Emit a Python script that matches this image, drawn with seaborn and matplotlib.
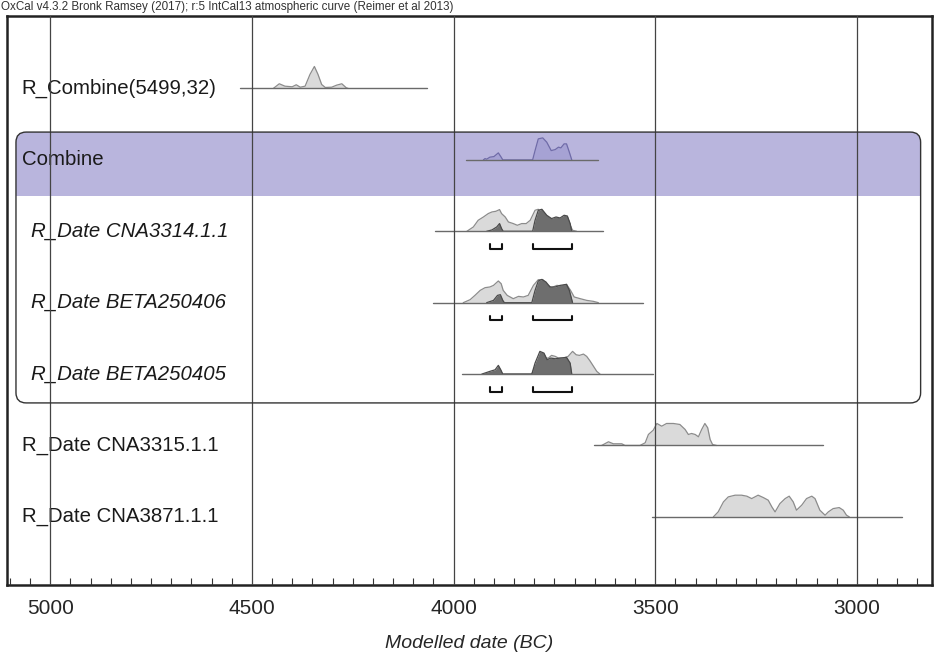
import matplotlib
matplotlib.use("Agg")
import matplotlib.pyplot as plt
import seaborn as sns
import numpy as np
from matplotlib.patches import FancyBboxPatch, Rectangle
from matplotlib.ticker import MultipleLocator

# OxCal multiplot: calibrated dates, years BC
header = "OxCal v4.3.2 Bronk Ramsey (2017); r:5 IntCal13 atmospheric curve (Reimer et al 2013)"
xticks = [5000, 4500, 4000, 3500, 3000]

labels = ["R_Combine(5499,32)", "Combine", "R_Date CNA3314.1.1", "R_Date BETA250406",
          "R_Date BETA250405", "R_Date CNA3315.1.1", "R_Date CNA3871.1.1"]
italic = [False, False, True, True, True, False, False]
range_from = [4529, 3970, 4046, 4050, 3980, 3652, 3509]
range_to = [4066, 3641, 3630, 3531, 3506, 3085, 2889]

# likelihood (light) distributions: years BC / relative probability
lik_years = {
    0: [4447, 4432, 4418, 4400, 4390, 4380, 4368, 4356, 4345, 4336, 4327, 4318, 4302, 4290, 4277, 4266, 4261],
    2: [3967, 3951, 3939, 3926, 3914, 3905, 3895, 3886, 3881, 3872, 3864, 3852, 3842, 3831, 3820, 3810,
        3798, 3790, 3781, 3769, 3757, 3746, 3736, 3726, 3718, 3711, 3705, 3695],
    3: [3976, 3959, 3947, 3934, 3922, 3910, 3901, 3889, 3882, 3877, 3867, 3852, 3839, 3827, 3815, 3802,
        3790, 3779, 3769, 3757, 3744, 3732, 3720, 3710, 3701, 3686, 3670, 3653, 3641],
    4: [3922, 3901, 3889, 3881, 3806, 3798, 3781, 3765, 3757, 3748, 3740, 3728, 3716, 3705, 3696, 3688,
        3678, 3670, 3662, 3653, 3645, 3637],
    5: [3633, 3616, 3604, 3583, 3575, 3538, 3525, 3517, 3505, 3496, 3484, 3472, 3455, 3439, 3426, 3418,
        3410, 3401, 3393, 3385, 3377, 3370, 3364, 3358, 3348],
    6: [3356, 3344, 3331, 3319, 3302, 3286, 3273, 3261, 3245, 3232, 3220, 3211, 3203, 3191, 3178, 3168,
        3158, 3150, 3137, 3125, 3112, 3104, 3092, 3079, 3071, 3059, 3044, 3034, 3026, 3019],
}
lik_prob = {
    0: [0, 4.7, 2.3, 1.7, 3.7, 1.3, 2.3, 14, 22, 14, 4, 1, 1.3, 3.3, 4.7, 0.7, 0],
    2: [0, 4.3, 11, 14.3, 17.7, 19.3, 20, 21.7, 17.7, 14.3, 9.3, 7.7, 6, 7.7, 7.7, 11,
        21, 22, 17.7, 14.3, 11, 13.3, 12, 14.3, 14.3, 6, 1, 0],
    3: [0, 3, 7.3, 12.3, 15, 15.7, 17.3, 21.7, 19, 12.3, 7.3, 4, 6.3, 5.7, 7.3, 17.3,
        23, 23, 18.3, 15, 17.3, 16.7, 18.3, 12.3, 5.7, 4, 2.3, 1.3, 0],
    4: [0, 2, 3.3, 0, 0, 7.7, 16, 16, 18.7, 17.7, 16, 16, 17.7, 22.7, 19.3, 18.7,
        20, 17.7, 13.3, 7.7, 2.7, 0],
    5: [0, 3.7, 1.7, 1.7, 0, 0, 2.7, 11, 15.3, 22, 19.3, 22, 22, 21, 16, 11,
        12, 11, 8.7, 16, 22, 17.7, 6, 1, 0],
    6: [0, 5, 15, 20, 21.7, 21.7, 20.7, 18.3, 21.7, 19.3, 16.7, 10, 5, 13.3, 18.3, 20.7,
        15, 6.7, 11.7, 18.3, 20.7, 18.3, 6.7, 1.7, 5, 8.3, 9.3, 6.7, 1.7, 0],
}

# posterior (dark) distributions
post_years = {
    1: [3926, 3922, 3918, 3910, 3900, 3889, 3882, 3878, 3804, 3798, 3790, 3779, 3769, 3758, 3748, 3740,
        3734, 3726, 3720, 3713, 3707],
    2: [3918, 3905, 3893, 3886, 3881, 3877, 3804, 3798, 3790, 3781, 3769, 3757, 3746, 3736, 3726, 3718,
        3711, 3707],
    3: [3918, 3901, 3891, 3884, 3878, 3874, 3806, 3798, 3790, 3781, 3771, 3761, 3748, 3736, 3720, 3713, 3705],
    4: [3930, 3910, 3897, 3889, 3883, 3878, 3806, 3798, 3786, 3776, 3768, 3759, 3748, 3736, 3720, 3711, 3707],
}
post_prob = {
    1: [0, 1.3, 0.7, 2.7, 3.3, 7, 2.7, 0, 0, 9.3, 21, 22, 17.7, 9.3, 10.3, 12.7,
        12, 16, 16, 7.7, 0],
    2: [0, 1.3, 4.3, 7.7, 2.7, 0, 0, 11, 21, 22, 16, 12.7, 14.3, 13.3, 16, 15.3, 7.7, 0],
    3: [0, 2.3, 7.3, 8, 2.3, 0, 0, 12.3, 21.7, 23.3, 20.7, 15.7, 15.7, 17.3, 18.3, 12.3, 0],
    4: [0, 2.7, 4.3, 8.7, 4.3, 0, 0, 11, 22.7, 21, 14.3, 16, 15.3, 16, 16.7, 11, 0],
}

# 95.4% ranges for the modelled dates
hpd_rows = [2, 3, 4]
hpd_ranges = [(3910, 3881), (3802, 3707)]

PROB_SCALE = 1 / 71.4  # relative probability -> row units

sns.set_theme(style="white")
plt.rcParams["font.family"] = ["Liberation Sans", "DejaVu Sans"]

fig = plt.figure(figsize=(9.36, 6.55), dpi=100)
ax = fig.add_axes([7 / 936, 1 - 585 / 655, 925 / 936, 569 / 655])
ax.set_xlim(5107, 2814)
ax.set_ylim(6.954, -1.015)

# grouping box with purple header band
aspect = 925 / 569
box_kw = dict(boxstyle="round,pad=0,rounding_size=0.011", mutation_aspect=aspect,
              transform=ax.transAxes)
band = FancyBboxPatch((0.0097, 0.320), 0.978, 0.476, facecolor="#b9b5dd",
                      edgecolor="none", zorder=0.2, **box_kw)
ax.add_patch(band)
clip = Rectangle((0, 0.6837), 1, 0.4, transform=ax.transAxes, facecolor="none", edgecolor="none")
ax.add_patch(clip)
band.set_clip_path(clip)
ax.add_patch(FancyBboxPatch((0.0097, 0.320), 0.978, 0.476, facecolor="none",
                            edgecolor="#333333", lw=1.0, zorder=2.6, **box_kw))

for i, lab in enumerate(labels):
    # range line
    sns.lineplot(x=[range_from[i], range_to[i]], y=[i, i], ax=ax, color="#6a6a6a",
                 lw=1.0, sort=False, estimator=None, zorder=1.5)
    if i in lik_years:
        yrs = np.array(lik_years[i])
        top = i - np.array(lik_prob[i]) * PROB_SCALE
        ax.fill_between(yrs, i, top, color="#dadada", lw=0, zorder=1)
        sns.lineplot(x=yrs, y=top, ax=ax, color="#8c8c8c", lw=0.9, sort=False,
                     estimator=None, zorder=1.1)
    if i in post_years:
        yrs = np.array(post_years[i])
        top = i - np.array(post_prob[i]) * PROB_SCALE
        if i == 1:
            fc, ec = "#a6a2d4", "#6f6ba8"
        else:
            fc, ec = "#6e6e6e", "#4a4a4a"
        ax.fill_between(yrs, i, top, color=fc, lw=0, zorder=1.2)
        sns.lineplot(x=yrs, y=top, ax=ax, color=ec, lw=0.9, sort=False,
                     estimator=None, zorder=1.3)
    xt = 0.026 if italic[i] else 0.016
    ax.text(xt, i, lab, transform=ax.get_yaxis_transform(), va="center", ha="left",
            fontsize=14.7, style="italic" if italic[i] else "normal", color="#1a1a1a", zorder=2)

# 95.4% range brackets
for r in hpd_rows:
    for a, b in hpd_ranges:
        ax.plot([a, a, b, b], [r + 0.18, r + 0.245, r + 0.245, r + 0.18],
                color="#111111", lw=1.5, zorder=2)

ax.set_xticks(xticks)
ax.set_xticklabels([str(t) for t in xticks], fontsize=15)
ax.xaxis.set_minor_locator(MultipleLocator(50))
ax.tick_params(axis="x", which="major", direction="in", length=8, width=1, pad=10, color="#222222")
ax.tick_params(axis="x", which="minor", direction="in", length=5, width=0.8, bottom=True, color="#333333")
ax.set_yticks([])
ax.grid(axis="x", which="major", color="#444444", lw=0.9)
ax.set_axisbelow(False)
for s in ax.spines.values():
    s.set_color("#222222")
    s.set_linewidth(1.8)

ax.set_xlabel("Modelled date (BC)", style="italic", fontsize=14, labelpad=12)

fig.text(0.001, 0.999, header, ha="left", va="top", fontsize=8.4, color="#333333")

fig.savefig("out.png", dpi=100, facecolor="white")
